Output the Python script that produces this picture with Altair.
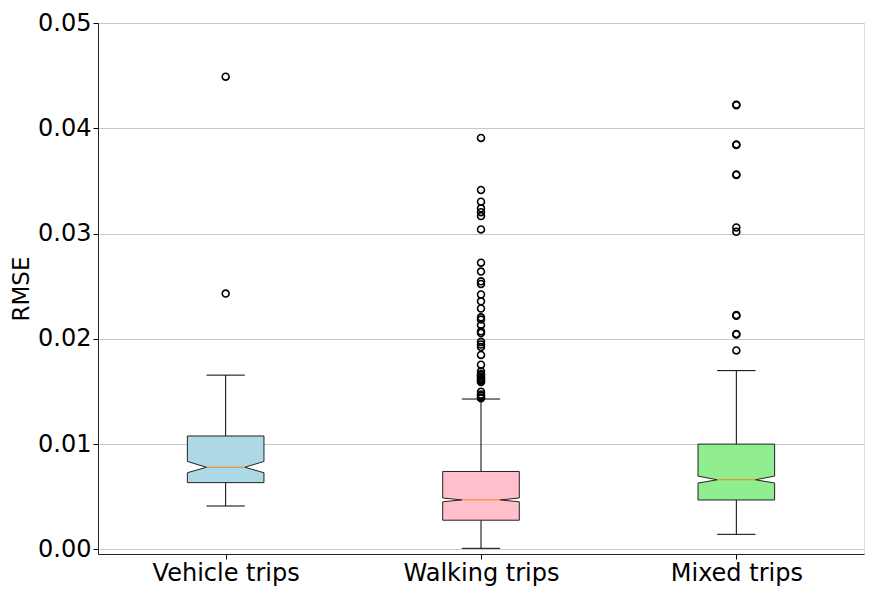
import json
import altair as alt
import pandas as pd

# ---- data ----
categories = ["Vehicle trips", "Walking trips", "Mixed trips"]
box_colors = ["#add8e6", "#ffc0cb", "#90ee90"]

whisker_low = [0.00412, 0.00010, 0.00143]
q1 = [0.00634, 0.00277, 0.00469]
notch_low = [0.00728, 0.00452, 0.00630]
median = [0.00780, 0.00470, 0.00661]
notch_high = [0.00835, 0.00488, 0.00696]
q3 = [0.01077, 0.00740, 0.01000]
whisker_high = [0.01655, 0.01428, 0.01698]

outliers_vehicle = [0.0449, 0.0243]
outliers_walking = [
    0.03908, 0.03414, 0.03303, 0.03240, 0.03203, 0.03166, 0.03039,
    0.02723, 0.02639, 0.02546, 0.02521, 0.02421, 0.02356, 0.02288,
    0.02204, 0.02183, 0.02132, 0.02071, 0.02055, 0.01971, 0.01946,
    0.01922, 0.01847, 0.01754, 0.01692, 0.01667, 0.01655, 0.01642,
    0.01630, 0.01620, 0.01610, 0.01600, 0.01589, 0.01497, 0.01471,
    0.01460, 0.01443, 0.01436,
]
outliers_mixed = [
    0.04224, 0.04220, 0.03846, 0.03842, 0.03561, 0.03557,
    0.03058, 0.03017, 0.02225, 0.02220, 0.02046, 0.02042, 0.01890,
]
outliers = [outliers_vehicle, outliers_walking, outliers_mixed]

BOX_HALF = 0.15      # half box width (widths=0.3)
NOTCH_HALF = 0.075   # half width at the notch waist / caps

# ---- tables built from the lists ----
box_rows, stat_rows, flier_rows = [], [], []
for i, cat in enumerate(categories):
    pos = i + 1
    for y, half in [(q1[i], BOX_HALF), (notch_low[i], BOX_HALF),
                    (median[i], NOTCH_HALF), (notch_high[i], BOX_HALF),
                    (q3[i], BOX_HALF)]:
        box_rows.append({"cat": cat, "y": y, "xl": pos - half, "xr": pos + half})
    stat_rows.append({
        "cat": cat, "pos": pos, "lo": pos - NOTCH_HALF, "hi": pos + NOTCH_HALF,
        "wl": whisker_low[i], "q1": q1[i], "med": median[i],
        "q3": q3[i], "wh": whisker_high[i],
    })
    for v in outliers[i]:
        flier_rows.append({"cat": cat, "pos": pos, "v": v})

boxes = pd.DataFrame(box_rows)
stats = pd.DataFrame(stat_rows)
fliers = pd.DataFrame(flier_rows)

FONT = "DejaVu Sans"
label_expr = f"{json.dumps(categories)}[datum.value - 1]"

xscale = alt.Scale(domain=[0.5, 3.5], nice=False, zero=False)
yscale = alt.Scale(domain=[-0.00044, 0.05], nice=False, zero=False)

x_axis = alt.Axis(values=[1, 2, 3], labelExpr=label_expr, grid=False,
                  title=None, labelFontSize=24, labelFont=FONT,
                  labelColor="black", tickColor="black", tickSize=5,
                  labelPadding=2, domainColor="#222")
y_axis = alt.Axis(values=[0, 0.01, 0.02, 0.03, 0.04, 0.05], format=".2f",
                  grid=True, gridColor="#c8c8c8", gridWidth=1,
                  title="RMSE", titleFontSize=23, titleFont=FONT,
                  titleFontWeight="normal", titleColor="black",
                  titlePadding=4, labelFontSize=24, labelFont=FONT,
                  labelColor="black", tickColor="black", tickSize=5,
                  labelPadding=2, domainColor="#222")

base_stats = alt.Chart(stats)

whisk_low = base_stats.mark_rule(color="black", strokeWidth=1).encode(
    x=alt.X("pos:Q", scale=xscale, axis=x_axis),
    y=alt.Y("wl:Q", scale=yscale, axis=y_axis),
    y2="q1:Q",
)
whisk_high = base_stats.mark_rule(color="black", strokeWidth=1).encode(
    x=alt.X("pos:Q", scale=xscale), y=alt.Y("q3:Q", scale=yscale), y2="wh:Q",
)

box = alt.Chart(boxes).mark_area(
    orient="horizontal", stroke="#222", strokeWidth=1, interpolate="linear",
    opacity=1,
).encode(
    y=alt.Y("y:Q", scale=yscale),
    x=alt.X("xl:Q", scale=xscale, stack=None),
    x2="xr:Q",
    fill=alt.Fill("cat:N", scale=alt.Scale(domain=categories, range=box_colors),
                  legend=None),
    detail="cat:N",
)

med = base_stats.mark_rule(color="#ff7f0e", strokeWidth=1).encode(
    x=alt.X("lo:Q", scale=xscale), x2="hi:Q", y=alt.Y("med:Q", scale=yscale),
)
cap_low = base_stats.mark_rule(color="black", strokeWidth=1).encode(
    x=alt.X("lo:Q", scale=xscale), x2="hi:Q", y=alt.Y("wl:Q", scale=yscale),
)
cap_high = base_stats.mark_rule(color="black", strokeWidth=1).encode(
    x=alt.X("lo:Q", scale=xscale), x2="hi:Q", y=alt.Y("wh:Q", scale=yscale),
)

pts = alt.Chart(fliers).mark_point(
    shape="circle", filled=False, color="black", strokeWidth=1.6, size=48,
    opacity=1,
).encode(
    x=alt.X("pos:Q", scale=xscale), y=alt.Y("v:Q", scale=yscale),
)

chart = alt.layer(
    whisk_low, whisk_high, box, med, cap_low, cap_high, pts
).properties(
    width=766, height=531,
    autosize=alt.AutoSizeParams(type="none"),
    padding={"left": 90, "top": 15, "right": 1, "bottom": 32},
).configure_view(
    stroke="#222", strokeWidth=1,
).configure(background="white")

chart.save("out.html", embed_options={"renderer": "svg", "actions": False})
